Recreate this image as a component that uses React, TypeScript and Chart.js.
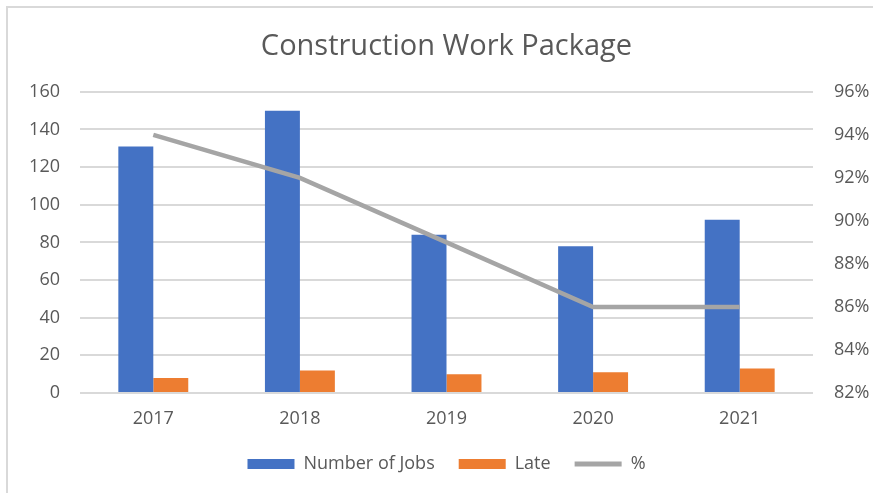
import React, { useEffect, useRef } from "react";
import { Chart, registerables } from "chart.js";

Chart.register(...registerables);

const categories = ["2017", "2018", "2019", "2020", "2021"];
const jobs = [131, 150, 84, 78, 92];
const late = [8, 12, 10, 11, 13];
const pct = [94, 92, 89, 86, 86];

const FONT = "'Open Sans', sans-serif";
const TXT = "#595959";
const FS = 18;

export default function App() {
  const ref = useRef<HTMLCanvasElement | null>(null);
  useEffect(() => {
    if (!ref.current) return;
    const chart = new Chart(ref.current, {
      type: "bar",
      data: {
        labels: categories,
        datasets: [
          {
            type: "bar",
            label: "Number of Jobs",
            data: jobs,
            backgroundColor: "#4472c4",
            yAxisID: "y",
            order: 1,
            categoryPercentage: 0.477,
            barPercentage: 1,
          },
          {
            type: "bar",
            label: "Late",
            data: late,
            backgroundColor: "#ed7d31",
            yAxisID: "y",
            order: 2,
            categoryPercentage: 0.477,
            barPercentage: 1,
          },
          {
            type: "line",
            label: "%",
            data: pct,
            borderColor: "#a5a5a5",
            backgroundColor: "#a5a5a5",
            borderWidth: 4.5,
            pointRadius: 0,
            tension: 0,
            yAxisID: "y1",
            order: 0,
          } as any,
        ],
      },
      options: {
        animation: false,
        responsive: false,
        maintainAspectRatio: false,
        layout: { padding: { left: 0, right: 0, top: 29, bottom: 10 } },
        plugins: {
          tooltip: { enabled: false },
          title: {
            display: true,
            fullSize: false,
            text: "Construction Work Package",
            color: TXT,
            font: { family: FONT, size: 29, weight: "normal" },
            padding: { top: 0, bottom: 28 },
          },
          legend: {
            position: "bottom",
            fullSize: false,
            labels: {
              color: TXT,
              font: { family: FONT, size: FS },
              usePointStyle: true,
              pointStyleWidth: 47,
              boxHeight: 10,
              padding: 24,
              sort: (a: any, b: any) => a.datasetIndex - b.datasetIndex,
              generateLabels: (c: any) => {
                const items = Chart.defaults.plugins.legend.labels.generateLabels(c);
                items.forEach((it: any) => {
                  if (it.datasetIndex === 2) {
                    it.pointStyle = "line";
                    it.lineWidth = 5;
                    it.strokeStyle = "#a5a5a5";
                  } else {
                    it.pointStyle = "rect";
                    it.lineWidth = 0;
                  }
                });
                return items;
              },
            },
          },
        },
        scales: {
          x: {
            grid: { display: false, drawTicks: false },
            border: { display: false },
            ticks: { color: TXT, font: { family: FONT, size: FS }, padding: 15 },
            afterFit: (s: any) => {
              s.height = 38;
            },
          },
          y: {
            position: "left",
            min: 0,
            max: 160,
            ticks: {
              stepSize: 20,
              color: TXT,
              font: { family: FONT, size: FS },
              padding: 20,
            },
            grid: { color: "#d9d9d9", lineWidth: 2, drawTicks: false },
            border: { display: false },
            afterFit: (s: any) => {
              s.width = 80;
            },
          },
          y1: {
            position: "right",
            min: 82,
            max: 96,
            ticks: {
              stepSize: 2,
              color: TXT,
              font: { family: FONT, size: FS },
              padding: 21,
              callback: (v: any) => v + "%",
            },
            grid: { display: false, drawTicks: false },
            border: { display: false },
            afterFit: (s: any) => {
              s.width = 60;
            },
          },
        },
      },
    });
    return () => chart.destroy();
  }, []);

  return (
    <div
      style={{
        position: "absolute",
        left: 0,
        top: 0,
        width: 873,
        height: 493,
        overflow: "hidden",
        background: "#fff",
      }}
    >
      <div
        style={{
          position: "absolute",
          left: 6,
          top: 6,
          width: 900,
          height: 600,
          borderTop: "2px solid #d9d9d9",
          borderLeft: "2px solid #d9d9d9",
        }}
      />
      <canvas
        ref={ref}
        width={873}
        height={493}
        style={{ position: "absolute", left: 0, top: 0, width: 873, height: 493 }}
      />
    </div>
  );
}
